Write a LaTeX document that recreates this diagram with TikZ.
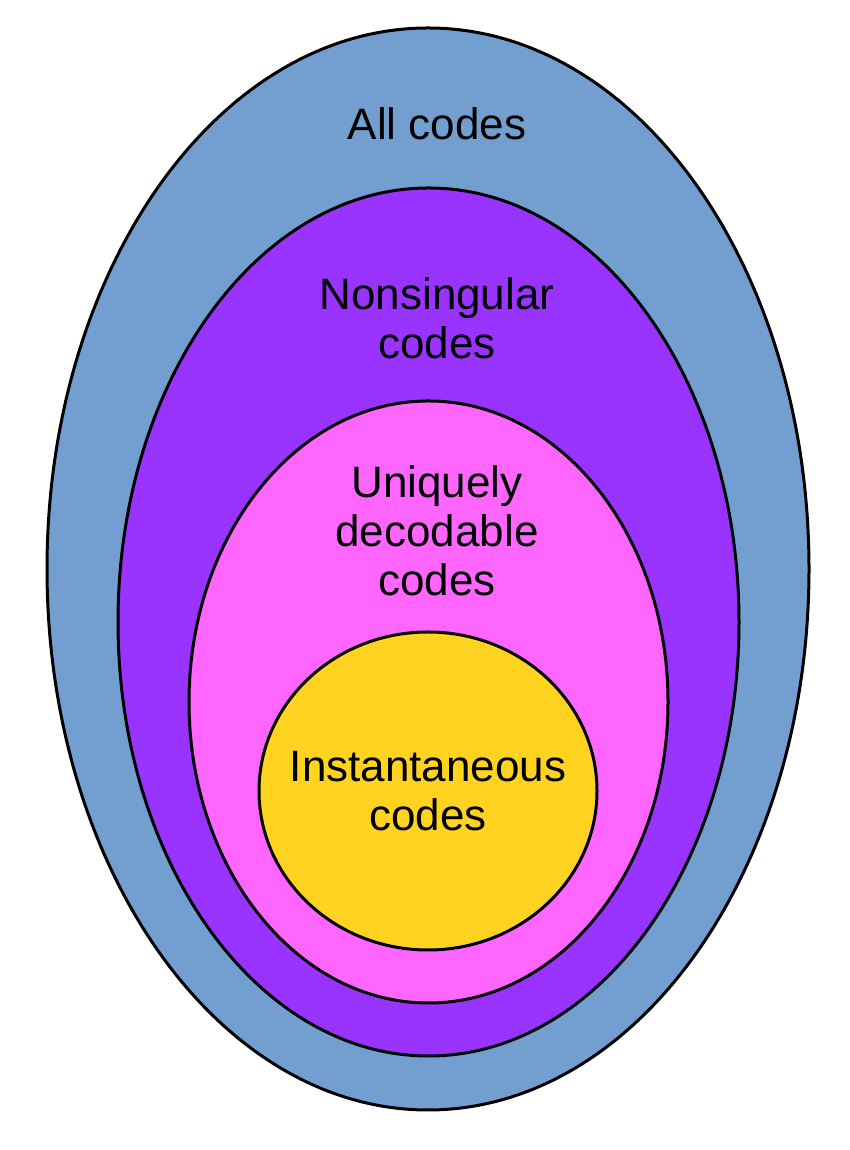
\documentclass[tikz,border=0pt]{standalone}
\usepackage{fontspec}
\setmainfont{Liberation Sans}
\definecolor{cblue}{RGB}{114,159,207}
\definecolor{cpurple}{RGB}{153,51,255}
\definecolor{cpink}{RGB}{255,102,255}
\definecolor{cyellow}{RGB}{255,211,32}
\begin{document}
\begin{tikzpicture}[x=1pt,y=1pt,
  setshape/.style={draw=black,line width=3pt},
  lbl/.style={align=center,font=\fontsize{44}{49}\selectfont,inner sep=0pt}]
\useasboundingbox (0,0) rectangle (850,1150);
\fill[white] (0,0) rectangle (850,1150);
\draw[setshape,fill=cblue] (428,581) ellipse [x radius=381,y radius=541];
\draw[setshape,fill=cpurple] (428.5,528) ellipse [x radius=310.5,y radius=434];
\draw[setshape,fill=cpink] (428.5,448) ellipse [x radius=239.5,y radius=301];
\draw[setshape,fill=cyellow] (428,359) ellipse [x radius=169,y radius=159];
\node[lbl] (all) at (437,1026) {All codes};
\node[lbl] (nons) at (437,832) {Nonsingular\\codes};
\node[lbl] (uniq) at (437,619) {Uniquely\\decodable\\codes};
\node[lbl] (inst) at (428,358.5) {Instantaneous\\codes};
\end{tikzpicture}
\end{document}
